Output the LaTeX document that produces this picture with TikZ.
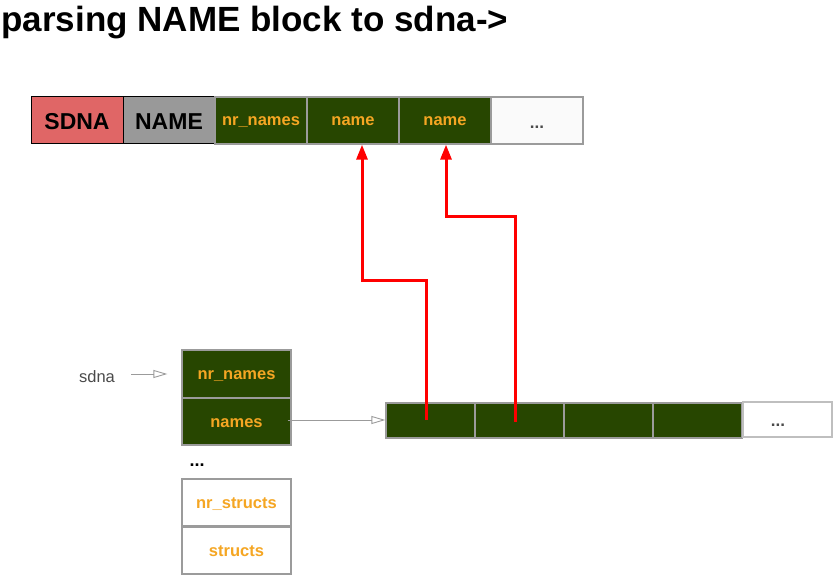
\documentclass[tikz,border=0pt]{standalone}
\usepackage{fontspec}
\setmainfont{Liberation Sans}
\usetikzlibrary{arrows.meta}
\definecolor{sdnared}{HTML}{E06666}
\definecolor{namegray}{HTML}{999999}
\definecolor{cellgreen}{HTML}{274600}
\definecolor{lblorange}{HTML}{F5A623}
\definecolor{edgegray}{HTML}{9B9B9B}
\definecolor{txtgray}{HTML}{4A4A4A}
\begin{document}
\begin{tikzpicture}[x=1pt,y=-1pt,
  lbl/.style={text height=11pt,text depth=0pt},
  cellbox/.style={lbl,draw=edgegray,line width=1.3pt,fill=cellgreen,minimum width=92pt,minimum height=47pt,inner sep=0pt,
    font=\fontsize{16.5}{19}\selectfont\bfseries,text=lblorange},
  blackbox/.style={text height=18.5pt,text depth=0pt,draw=black,line width=1pt,minimum width=92pt,minimum height=47pt,inner sep=0pt,
    font=\fontsize{23}{27}\selectfont\bfseries,text=black},
  whitebox/.style={lbl,draw=edgegray,line width=1.3pt,fill=white,minimum width=92pt,minimum height=47pt,inner sep=0pt,
    font=\fontsize{16.5}{19}\selectfont\bfseries,text=lblorange},
  dotsbox/.style={text=txtgray,font=\fontsize{17}{20}\selectfont\bfseries},
  colbox/.style={minimum width=109pt,minimum height=47pt},
  arrbox/.style={minimum width=89pt,minimum height=35pt},
  redarrow/.style={draw=red,line width=3pt,-{Triangle[length=15pt,width=11pt]}},
  grayarrow/.style={draw=edgegray,line width=0.9pt,-{Triangle[open,length=14pt,width=8pt]}}
]
\useasboundingbox (0,0) rectangle (834,588);

\node[anchor=west,font=\fontsize{35}{40}\selectfont\bfseries] (title) at (-2,23) {parsing NAME block to sdna->};

% top row
\node[blackbox,fill=sdnared] (sdnab) at (77,120.5) {SDNA};
\node[blackbox,fill=namegray] (nameb) at (169,120.5) {NAME};
\node[cellbox] (nrn) at (261,120.5) {nr\_names};
\node[cellbox] (n1) at (353,120.5) {name};
\node[cellbox] (n2) at (445,120.5) {name};
\node[whitebox,fill=black!2,dotsbox] (dots1) at (537,120.5) {};
\node[dotsbox,anchor=base] (dots1t) at (537,129) {...};

% left column
\node[txtgray,font=\fontsize{16.5}{19}\selectfont,anchor=base] (sdnal) at (97,382) {sdna};
\node[cellbox,colbox,minimum height=48pt] (cnr) at (236.5,374) {nr\_names};
\node[cellbox,colbox] (cnames) at (236.5,421.5) {names};
\node[font=\fontsize{18}{21}\selectfont\bfseries,anchor=base] (cdots) at (197,466) {...};
\node[whitebox,colbox] (cnrs) at (236.5,502.5) {nr\_structs};
\node[whitebox,colbox] (cst) at (236.5,550.5) {structs};

% array
\node[cellbox,arrbox] (a1) at (430.5,420.5) {};
\node[cellbox,arrbox] (a2) at (519.5,420.5) {};
\node[cellbox,arrbox] (a3) at (608.5,420.5) {};
\node[cellbox,arrbox] (a4) at (697.5,420.5) {};
\node[whitebox,arrbox,draw=black!25] (a5) at (787.5,419.5) {};
\node[dotsbox,anchor=base] (a5t) at (778,426) {...};

% gray arrows
\coordinate (p0) at ([xshift=13pt]sdnal.east |- cnr.west);
\draw[grayarrow] (p0) -- ([xshift=-14pt]cnr.west);
\coordinate (p1) at ([xshift=-4pt,yshift=1.5pt]cnames.east);
\draw[grayarrow] (p1) -- (a1.west |- p1);

% red arrows
\coordinate (s1) at (426,420);
\coordinate (k1) at (362,280);
\coordinate (s2) at (515,422);
\coordinate (k2) at (446,216);
\draw[redarrow] (s1) |- (k1) -- (k1 |- n1.south);
\draw[redarrow] (s2) |- (k2) -- (k2 |- n2.south);
\end{tikzpicture}
\end{document}
